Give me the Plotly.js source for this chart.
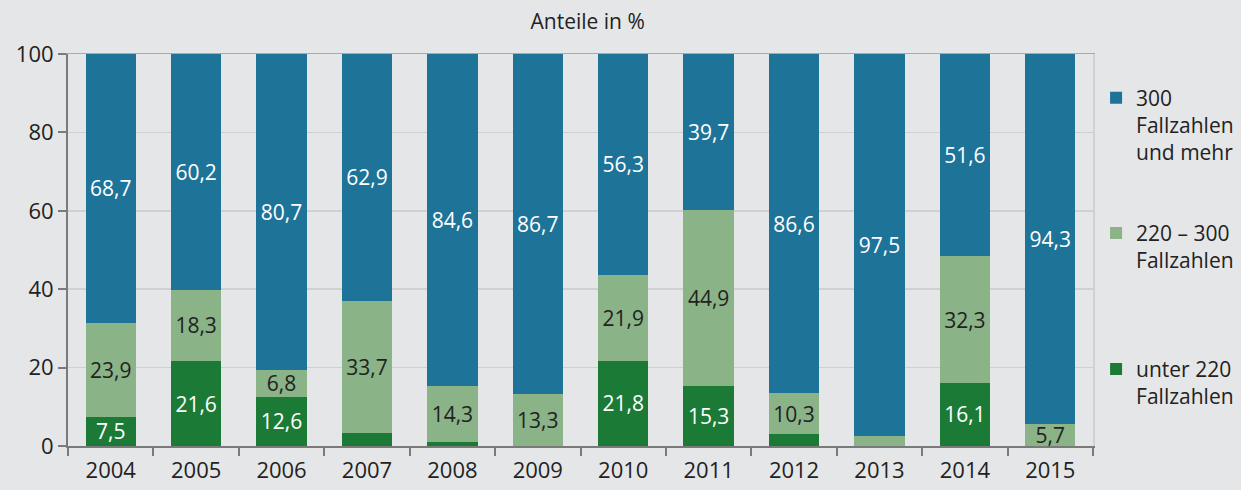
<!DOCTYPE html>
<html>
<head>
<meta charset="utf-8">
<script src="https://cdn.plot.ly/plotly-3.0.1.min.js"></script>
<style>html,body{margin:0;padding:0;background:#e5e6e8;}#chart{width:1241px;height:490px;}</style>
</head>
<body>
<div id="chart"></div>
<script>
const years = ['2004','2005','2006','2007','2008','2009','2010','2011','2012','2013','2014','2015'];
const unter220 = [7.5, 21.6, 12.6, 3.4, 1.1, 0, 21.8, 15.3, 3.1, 0, 16.1, 0];
const mid220_300 = [23.9, 18.3, 6.8, 33.7, 14.3, 13.3, 21.9, 44.9, 10.3, 2.5, 32.3, 5.7];
const ab300 = [68.7, 60.2, 80.7, 62.9, 84.6, 86.7, 56.3, 39.7, 86.6, 97.5, 51.6, 94.3];
const names = ['unter 220<br>Fallzahlen', '220 – 300<br>Fallzahlen', '300<br>Fallzahlen<br>und mehr'];

const fmt = v => v >= 5 ? v.toFixed(1).replace('.', ',') : '';
const FONT = 'Open Sans, Noto Sans, sans-serif';

function bar(vals, name, color, txtColor, legend) {
  return {
    type: 'bar', x: years, y: vals, name: name,
    marker: {color: color},
    text: vals.map(fmt), textposition: 'inside', insidetextanchor: 'middle',
    textfont: {color: txtColor, size: 21, family: FONT},
    constraintext: 'none', textangle: 0,
    hoverinfo: 'x+y', legend: legend
  };
}

const data = [
  bar(unter220, names[0], '#1b7b36', '#ffffff', 'legend3'),
  bar(mid220_300, names[1], '#8ab387', '#222222', 'legend2'),
  bar(ab300, names[2], '#1e7399', '#ffffff', 'legend')
];

const legBase = {x: 1.003, xanchor: 'left', yanchor: 'top', bgcolor: 'rgba(0,0,0,0)',
  font: {size: 21, family: FONT, color: '#222'}, valign: 'top'};

const layout = {
  width: 1241, height: 490,
  paper_bgcolor: '#e5e6e8', plot_bgcolor: '#e5e6e8',
  margin: {l: 68, r: 148, t: 54, b: 44, autoexpand: false},
  barmode: 'stack', bargap: 0.41,
  font: {family: FONT, color: '#222', size: 21},
  title: {text: 'Anteile in %', x: 0.507, xref: 'paper', y: 0.955, yanchor: 'middle', font: {size: 21, color: '#222'}},
  xaxis: {
    type: 'category', showgrid: false, showline: true, linecolor: '#7a7a7a', linewidth: 2,
    ticks: 'outside', tickson: 'boundaries', ticklen: 8, tickcolor: '#7a7a7a', tickwidth: 2,
    ticklabelstandoff: 4,
    tickfont: {size: 22, color: '#222'}, fixedrange: true
  },
  yaxis: {
    range: [0, 100], dtick: 20, showgrid: true, gridcolor: '#cfd0d2', gridwidth: 1.5,
    showline: true, linecolor: '#7a7a7a', linewidth: 2,
    ticks: 'outside', ticklen: 8, tickcolor: '#7a7a7a', tickwidth: 2,
    tickfont: {size: 22, color: '#222'}, zeroline: false, fixedrange: true
  },
  yaxis2: {overlaying: 'y', side: 'right', range: [0, 100], showline: true, linecolor: '#d0d1d3', linewidth: 2,
    showticklabels: false, ticks: '', showgrid: false, zeroline: false},
  xaxis2: {overlaying: 'x', side: 'top', showline: true, linecolor: '#a9aaad', linewidth: 1.5,
    showticklabels: false, ticks: '', showgrid: false, zeroline: false},
  legend: Object.assign({}, legBase, {y: 0.94}),
  legend2: Object.assign({}, legBase, {y: 0.595}),
  legend3: Object.assign({}, legBase, {y: 0.248}),
  showlegend: true
};
// invisible helper trace so the secondary axes are drawn
data.push({type: 'scatter', x: [null], y: [null], xaxis: 'x2', yaxis: 'y2', showlegend: false, hoverinfo: 'skip'});

Plotly.newPlot('chart', data, layout, {displayModeBar: false, staticPlot: true});
</script>
</body>
</html>
